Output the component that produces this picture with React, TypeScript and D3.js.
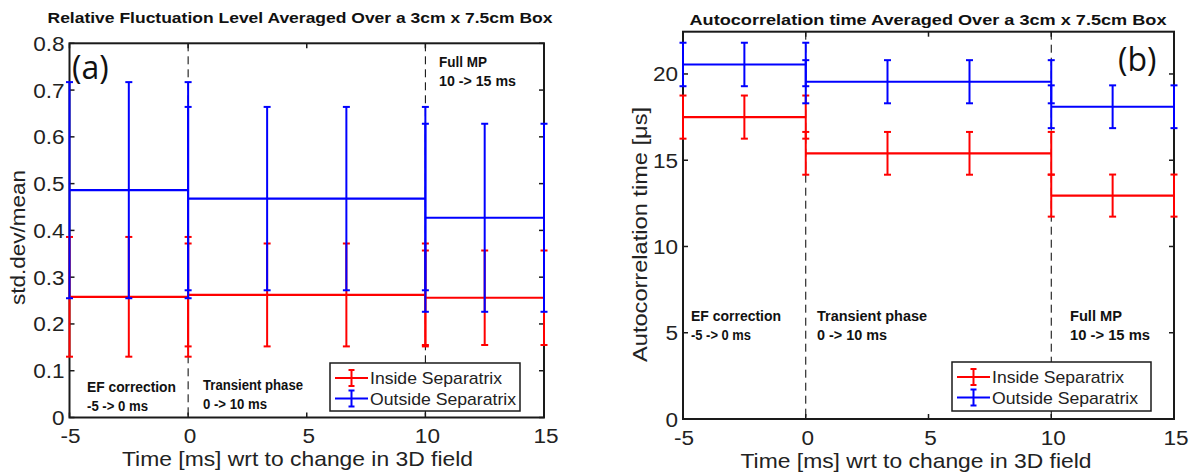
import React from "react";
import * as d3 from "d3";

// ---------- data ----------
const X_TICKS = [-5, 0, 5, 10, 15];
const SEG_START = [-5, 0, 10];
const SEG_END = [0, 10, 15];
const SEG_POINTS = [
  [-5, -2.5, 0],
  [0, 3.33, 6.67, 10],
  [10, 12.5, 15],
];
const PHASE_BOUNDARIES = [0, 10];

const FLUCT_Y_TICKS = [0, 0.1, 0.2, 0.3, 0.4, 0.5, 0.6, 0.7, 0.8];
const FLUCT_Y_LABELS = ["0", "0.1", "0.2", "0.3", "0.4", "0.5", "0.6", "0.7", "0.8"];
const FLUCT_INSIDE = [0.258, 0.262, 0.256];
const FLUCT_INSIDE_ERR = [0.128, 0.11, 0.101];
const FLUCT_OUTSIDE = [0.486, 0.468, 0.427];
const FLUCT_OUTSIDE_ERR = [0.231, 0.196, 0.201];

const AUTO_Y_TICKS = [0, 5, 10, 15, 20];
const AUTO_Y_LABELS = ["0", "5", "10", "15", "20"];
const AUTO_INSIDE = [17.5, 15.4, 12.95];
const AUTO_INSIDE_ERR = [1.25, 1.24, 1.22];
const AUTO_OUTSIDE = [20.55, 19.55, 18.1];
const AUTO_OUTSIDE_ERR = [1.26, 1.25, 1.24];

const LEGEND_LABELS = ["Inside Separatrix", "Outside Separatrix"];
const RED = "#ff0000";
const BLUE = "#0000ff";
const SANS = "'Liberation Sans', Arial, Helvetica, sans-serif";
const NARROW = "'Liberation Sans Narrow', 'Liberation Sans', Arial, sans-serif";

type PanelProps = {
  x0: number; x1: number; y0: number; y1: number;
  yMax: number;
  yTicks: number[]; yLabels: string[];
  inside: number[]; insideErr: number[];
  outside: number[]; outsideErr: number[];
  title: string; titleX: number; titleY: number; titleW: number;
  yLabel: string; yLabelX: number; yLabelY: number; yLabelW: number;
  xLabelX: number;
  tag: string; tagX: number; tagY: number;
  phaseY: number[];
  phaseX: number[];
  phaseW: number[][];
  legend: { x: number; y: number; w: number; h: number };
};

function Series({ xs, ys, vals, errs, color }: any) {
  const cap = 3.5;
  return (
    <g stroke={color} strokeWidth={2} fill="none">
      {vals.map((v: number, i: number) => (
        <line key={"h" + i} x1={xs(SEG_START[i])} x2={xs(SEG_END[i])} y1={ys(v)} y2={ys(v)} strokeWidth={2.2} />
      ))}
      {vals.map((v: number, i: number) =>
        SEG_POINTS[i].map((p, j) => {
          const x = xs(p);
          const yt = ys(v + errs[i]);
          const yb = ys(v - errs[i]);
          return (
            <g key={i + "-" + j}>
              <line x1={x} x2={x} y1={yt} y2={yb} />
              <line x1={x - cap} x2={x + cap} y1={yt} y2={yt} />
              <line x1={x - cap} x2={x + cap} y1={yb} y2={yb} />
            </g>
          );
        })
      )}
    </g>
  );
}

function Num({ x, y, anchor, children }: any) {
  return (
    <g transform={`translate(${x},${y}) scale(1.1,1)`}>
      <text x={0} y={0} textAnchor={anchor} fontFamily={SANS} fontSize={20.5} fill="#222">{children}</text>
    </g>
  );
}

function Panel(p: PanelProps) {
  const xs = d3.scaleLinear().domain([-5, 15]).range([p.x0, p.x1]);
  const ys = d3.scaleLinear().domain([0, p.yMax]).range([p.y1, p.y0]);
  const tl = 5;
  const phaseTexts = [
    ["EF correction", "-5 -> 0 ms"],
    ["Transient phase", "0 -> 10 ms"],
    ["Full MP", "10 -> 15 ms"],
  ];
  const L = p.legend;
  return (
    <g>
      <text x={p.titleX} y={p.titleY} textAnchor="middle" fontFamily={NARROW} fontWeight="bold" fontSize={15.5}
        textLength={p.titleW} lengthAdjust="spacingAndGlyphs" fill="#111">{p.title}</text>
      {PHASE_BOUNDARIES.map((b) => (
        <line key={b} x1={xs(b)} x2={xs(b)} y1={p.y0} y2={p.y1} stroke="#000" strokeWidth={1} strokeDasharray="8,5" />
      ))}
      <rect x={p.x0} y={p.y0} width={p.x1 - p.x0} height={p.y1 - p.y0} fill="none" stroke="#1a1a1a" strokeWidth={2} />
      {X_TICKS.map((t) => (
        <g key={"xt" + t}>
          <line x1={xs(t)} x2={xs(t)} y1={p.y1} y2={p.y1 - tl} stroke="#1a1a1a" strokeWidth={1.5} />
          <line x1={xs(t)} x2={xs(t)} y1={p.y0} y2={p.y0 + tl} stroke="#1a1a1a" strokeWidth={1.5} />
          <Num x={xs(t) + (t < 0 ? 1 : 2)} y={p.y1 + 25.5} anchor="middle">{t}</Num>
        </g>
      ))}
      {p.yTicks.map((t, i) => (
        <g key={"yt" + t}>
          <line x1={p.x0} x2={p.x0 + tl} y1={ys(t)} y2={ys(t)} stroke="#1a1a1a" strokeWidth={1.5} />
          <line x1={p.x1} x2={p.x1 - tl} y1={ys(t)} y2={ys(t)} stroke="#1a1a1a" strokeWidth={1.5} />
          <Num x={p.x0 - 5} y={ys(t) + 7.5} anchor="end">{p.yLabels[i]}</Num>
        </g>
      ))}
      <text x={p.xLabelX} y={p.y1 + 48.5} textAnchor="middle" fontFamily={SANS} fontSize={21} fill="#222"
        textLength={351} lengthAdjust="spacingAndGlyphs">
        Time [ms] wrt to change in 3D field
      </text>
      <text transform={`translate(${p.yLabelX},${p.yLabelY}) rotate(-90)`} textAnchor="middle" fontFamily={SANS}
        fontSize={21} fill="#222" textLength={p.yLabelW} lengthAdjust="spacingAndGlyphs">{p.yLabel}</text>
      {phaseTexts.map((lines, k) => (
        <g key={"ph" + k}>
          {lines.map((s, j) => (
            <text key={j} x={p.phaseX[k]} y={p.phaseY[k] + j * 19} fontFamily={NARROW} fontWeight="bold" fontSize={14}
              textLength={p.phaseW[k][j]} lengthAdjust="spacingAndGlyphs" fill="#111">{s}</text>
          ))}
        </g>
      ))}
      <text x={p.tagX} y={p.tagY} fontFamily="'Open Sans', 'Noto Sans', sans-serif" fontSize={32} fill="#111">{p.tag}</text>
      <Series xs={xs} ys={ys} vals={p.inside} errs={p.insideErr} color={RED} />
      <Series xs={xs} ys={ys} vals={p.outside} errs={p.outsideErr} color={BLUE} />
      <rect x={L.x} y={L.y} width={L.w} height={L.h} fill="#fff" stroke="#1a1a1a" strokeWidth={1.5} />
      {LEGEND_LABELS.map((lab, i) => {
        const cy = L.y + 15 + i * 20.5;
        const c = i === 0 ? RED : BLUE;
        const lx0 = L.x + 5, lx1 = L.x + 38, mx = (lx0 + lx1) / 2;
        return (
          <g key={lab}>
            <g stroke={c} strokeWidth={2}>
              <line x1={lx0} x2={lx1} y1={cy} y2={cy} />
              <line x1={mx} x2={mx} y1={cy - 8} y2={cy + 8} />
              <line x1={mx - 3} x2={mx + 3} y1={cy - 8} y2={cy - 8} />
              <line x1={mx - 3} x2={mx + 3} y1={cy + 8} y2={cy + 8} />
            </g>
            <text x={L.x + 40} y={cy + 6} fontFamily={SANS} fontSize={17} fill="#222"
              textLength={i === 0 ? 132 : 146} lengthAdjust="spacingAndGlyphs">{lab}</text>
          </g>
        );
      })}
    </g>
  );
}

export default function App() {
  return (
    <svg width={1191} height={472} style={{ position: "absolute", left: 0, top: 0, background: "#fff" }}>
      <rect width={1191} height={472} fill="#fff" />
      <Panel
        x0={69.5} x1={544} y0={43.3} y1={417.5} yMax={0.8}
        yTicks={FLUCT_Y_TICKS} yLabels={FLUCT_Y_LABELS}
        inside={FLUCT_INSIDE} insideErr={FLUCT_INSIDE_ERR}
        outside={FLUCT_OUTSIDE} outsideErr={FLUCT_OUTSIDE_ERR}
        title="Relative Fluctuation Level Averaged Over a 3cm x 7.5cm Box" titleX={300} titleY={23} titleW={505}
        yLabel="std.dev/mean" yLabelX={25} yLabelY={237.5} yLabelW={135}
        xLabelX={297.5}
        tag="(a)" tagX={72} tagY={79}
        phaseX={[87, 203, 439]} phaseY={[392, 390, 67]}
        phaseW={[[89, 61], [100, 64], [48, 77]]}
        legend={{ x: 330, y: 363, w: 190, h: 48 }}
      />
      <Panel
        x0={683} x1={1174} y0={31.7} y1={419} yMax={22.45}
        yTicks={AUTO_Y_TICKS} yLabels={AUTO_Y_LABELS}
        inside={AUTO_INSIDE} insideErr={AUTO_INSIDE_ERR}
        outside={AUTO_OUTSIDE} outsideErr={AUTO_OUTSIDE_ERR}
        title="Autocorrelation time Averaged Over a 3cm x 7.5cm Box" titleX={928} titleY={25} titleW={477}
        yLabel="Autocorrelation time [μs]" yLabelX={647} yLabelY={234.5} yLabelW={255}
        xLabelX={916}
        tag="(b)" tagX={1118} tagY={71}
        phaseX={[691, 817, 1070]} phaseY={[321, 321, 321]}
        phaseW={[[90, 60], [110, 70], [52, 80]]}
        legend={{ x: 952, y: 362, w: 199, h: 49 }}
      />
    </svg>
  );
}
